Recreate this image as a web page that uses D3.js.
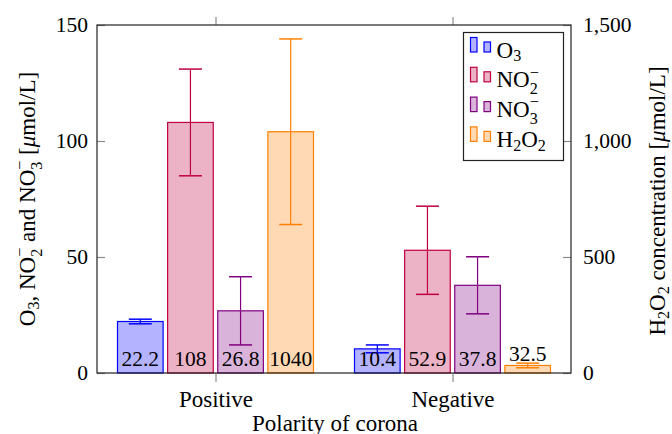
<!DOCTYPE html>
<html>
<head>
<meta charset="utf-8">
<script src="https://cdn.jsdelivr.net/npm/d3@7"></script>
<style>
  body { margin: 0; background: #fff; }
  text { font-family: "Liberation Serif", "Times New Roman", serif; fill: #000; }
</style>
</head>
<body>
<div id="chart"></div>
<script>
// data
var categories = ["Positive", "Negative"];
var seriesNames = ["O3", "NO2", "NO3", "H2O2"];
var o3 = [22.2, 10.4];
var o3Err = [1.0, 1.7];
var no2 = [108, 52.9];
var no2Err = [23, 19];
var no3 = [26.8, 37.8];
var no3Err = [14.7, 12.3];
var h2o2 = [1040, 32.5];
var h2o2Err = [400, 10];
var leftTicks = [0, 50, 100, 150];
var rightTicks = [0, 500, 1000, 1500];

var fs = 21.5;   // numbers
var fsw = 23;    // words
var svgWidth = 672, svgHeight = 434;
// plot area edges ("top" is taken by window.top)
var plotL = 97, plotR = 571, plotT = 25, plotB = 373;

var svg = d3.select("#chart").append("svg")
  .attr("width", svgWidth)
  .attr("height", svgHeight);

// scales
var x = d3.scalePoint().domain(categories).range([plotL, plotR]).padding(0.5);
var inner = d3.scaleBand().domain(seriesNames).range([-98, 98]).paddingInner(0.09);
var yLeft = d3.scaleLinear().domain([0, 150]).range([plotB, plotT]);
var yRight = d3.scaleLinear().domain([0, 1500]).range([plotB, plotT]);

var series = [
  { name: "O3", values: o3, err: o3Err, y: yLeft, stroke: "#0000ff", fill: "#b3b3ff" },
  { name: "NO2", values: no2, err: no2Err, y: yLeft, stroke: "#bf0040", fill: "#ecb3c6" },
  { name: "NO3", values: no3, err: no3Err, y: yLeft, stroke: "#800080", fill: "#d9b3d9" },
  { name: "H2O2", values: h2o2, err: h2o2Err, y: yRight, stroke: "#ff8000", fill: "#ffd9b3" }
];

// chemistry text: parts are strings, or {sub, sup, it}
function chem(text, parts, size) {
  var shift = 0;
  parts.forEach(function(p) {
    if (typeof p === "string") {
      text.append("tspan").attr("dy", -shift).text(p);
      shift = 0;
    } else if (p.it) {
      text.append("tspan").attr("dy", -shift).attr("font-style", "italic").text(p.it);
      shift = 0;
    } else {
      var down = p.sup ? 0.3 * size : 0.17 * size;
      var sub = text.append("tspan")
        .attr("dy", down - shift)
        .attr("font-size", size * 0.7)
        .text(p.sub);
      shift = down;
      if (p.sup) {
        var w = sub.node().getComputedTextLength();
        var up = 0.42 * size;
        text.append("tspan")
          .attr("dx", -w)
          .attr("dy", -down - up)
          .attr("font-size", size * 0.7)
          .text(p.sup);
        shift = -up;
      }
    }
  });
}

// bars
var groups = svg.selectAll(".series")
  .data(series)
  .enter()
  .append("g")
  .attr("class", "series");

groups.each(function(s) {
  var g = d3.select(this);
  var bw = inner.bandwidth();
  categories.forEach(function(c, i) {
    var cx = x(c) + inner(s.name) + bw / 2;
    var v = s.values[i];
    g.append("rect")
      .attr("x", x(c) + inner(s.name))
      .attr("y", s.y(v))
      .attr("width", bw)
      .attr("height", plotB - s.y(v))
      .attr("fill", s.fill)
      .attr("stroke", s.stroke)
      .attr("stroke-width", 1.2);

    var hi = s.y(v + s.err[i]), lo = s.y(v - s.err[i]);
    g.append("line")
      .attr("x1", cx).attr("x2", cx)
      .attr("y1", hi).attr("y2", lo)
      .attr("stroke", s.stroke).attr("stroke-width", 1.2);
    [hi, lo].forEach(function(yy) {
      g.append("line")
        .attr("x1", cx - 11.5).attr("x2", cx + 11.5)
        .attr("y1", yy).attr("y2", yy)
        .attr("stroke", s.stroke).attr("stroke-width", 1.5);
    });

    // value label sits at the bar foot, or just above a very short bar
    var barH = plotB - s.y(v);
    g.append("text")
      .attr("x", cx)
      .attr("y", barH < 15 ? s.y(v) - 4 : 365.5)
      .attr("text-anchor", "middle")
      .attr("font-size", fs)
      .text(v);
  });
});

// axes
var tickGrey = "#8c8c8c";

var leftAxis = svg.append("g")
  .attr("transform", "translate(" + plotL + ",0)")
  .call(d3.axisLeft(yLeft).tickValues(leftTicks).tickSizeInner(-8).tickSizeOuter(0).tickPadding(9));

var rightAxis = svg.append("g")
  .attr("transform", "translate(" + plotR + ",0)")
  .call(d3.axisRight(yRight).tickValues(rightTicks).tickSizeInner(-8).tickSizeOuter(0)
    .tickPadding(12).tickFormat(d3.format(",")));

var bottomAxis = svg.append("g")
  .attr("transform", "translate(0," + plotB + ")")
  .call(d3.axisBottom(x).tickSizeInner(9).tickSizeOuter(0).tickPadding(9));

var topAxis = svg.append("g")
  .attr("transform", "translate(0," + plotT + ")")
  .call(d3.axisTop(x).tickSizeInner(8).tickSizeOuter(0).tickFormat(""));

[leftAxis, rightAxis, bottomAxis, topAxis].forEach(function(a) {
  a.select(".domain").remove();
  a.selectAll(".tick line").attr("stroke", tickGrey).attr("stroke-width", 1.2);
  a.selectAll(".tick text")
    .attr("font-family", "Liberation Serif, serif")
    .attr("font-size", fs)
    .attr("fill", "#000");
});
bottomAxis.selectAll(".tick text").attr("font-size", fsw);

// frame
svg.append("rect")
  .attr("x", plotL).attr("y", plotT)
  .attr("width", plotR - plotL).attr("height", plotB - plotT)
  .attr("fill", "none")
  .attr("stroke", "#222")
  .attr("stroke-width", 1.2);

// axis titles
svg.append("text")
  .attr("x", 335)
  .attr("y", 431)
  .attr("text-anchor", "middle")
  .attr("font-size", fsw)
  .text("Polarity of corona");

var yTitle = svg.append("text")
  .attr("transform", "translate(35," + (plotT + plotB) / 2 + ") rotate(-90)")
  .attr("text-anchor", "middle")
  .attr("font-size", fsw);
chem(yTitle, ["O", { sub: "3" }, ", NO", { sub: "2", sup: "\u2212" }, " and NO", { sub: "3", sup: "\u2212" },
  " [", { it: "\u03bc" }, "mol/L]"], fsw);

var y2Title = svg.append("text")
  .attr("transform", "translate(665," + (plotT + plotB + 4) / 2 + ") rotate(-90)")
  .attr("text-anchor", "middle")
  .attr("font-size", fsw);
chem(y2Title, ["H", { sub: "2" }, "O", { sub: "2" }, " concentration [", { it: "\u03bc" }, "mol/L]"], fsw);

// legend
var legendLabels = [
  ["O", { sub: "3" }],
  ["NO", { sub: "2", sup: "\u2212" }],
  ["NO", { sub: "3", sup: "\u2212" }],
  ["H", { sub: "2" }, "O", { sub: "2" }]
];

var legend = svg.append("g");
legend.append("rect")
  .attr("x", 463.5).attr("y", 32.5)
  .attr("width", 100).attr("height", 128)
  .attr("fill", "#fff")
  .attr("stroke", "#222")
  .attr("stroke-width", 1.2);

series.forEach(function(s, i) {
  var yb = 52 + i * 29.8;
  legend.append("rect")
    .attr("x", 470.5).attr("y", yb - 14.5)
    .attr("width", 6.5).attr("height", 14.5)
    .attr("fill", s.fill).attr("stroke", s.stroke).attr("stroke-width", 1.2);
  legend.append("rect")
    .attr("x", 484).attr("y", yb - 10)
    .attr("width", 6.5).attr("height", 10)
    .attr("fill", s.fill).attr("stroke", s.stroke).attr("stroke-width", 1.2);
  var t = legend.append("text")
    .attr("x", 496.5)
    .attr("y", yb + 5.5)
    .attr("font-size", fsw);
  chem(t, legendLabels[i], fsw);
});
</script>
</body>
</html>
